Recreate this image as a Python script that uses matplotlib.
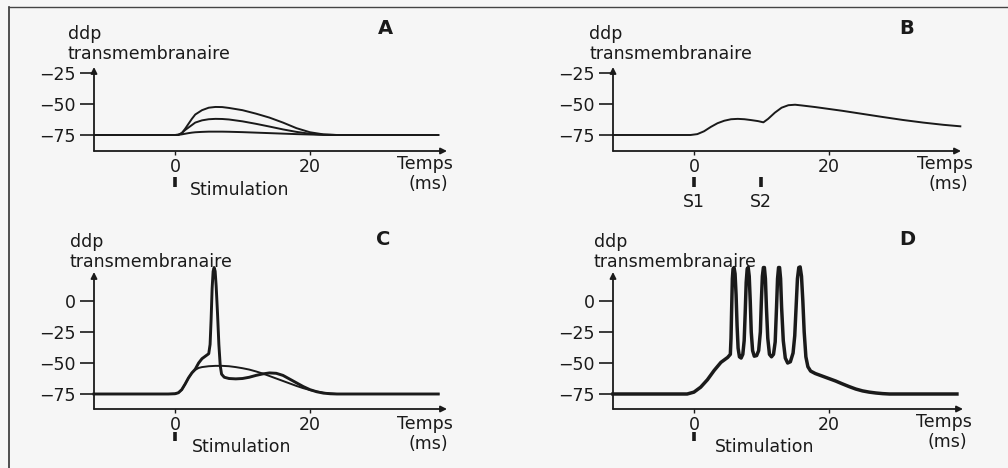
import matplotlib
matplotlib.use("Agg")
import matplotlib.pyplot as plt
import matplotlib.transforms as mtransforms
from matplotlib.lines import Line2D

# ---------------- data ----------------
# Panel A : three subthreshold responses
A_t = [-12, -2, 0, 0.5, 1, 1.5, 2, 2.5, 3, 4, 5, 6, 7, 8, 10, 12, 14, 16, 18, 20, 22, 24, 26, 30, 39]
A_v_large = [-75, -75, -75, -74.8, -73.5, -70, -66, -62, -58.5, -55, -53, -52.4, -52.5, -53.2, -55,
             -57.8, -61, -65, -69.5, -72.8, -74.5, -75, -75, -75, -75]
A_v_mid = [-75, -75, -75, -74.8, -73.5, -71, -69, -67, -65, -63.2, -62.3, -62, -62.1, -62.5, -64,
           -66, -68.2, -70.5, -72.5, -74, -74.8, -75, -75, -75, -75]
A_v_small = [-75, -75, -75, -74.9, -74.5, -74, -73.5, -73.1, -72.8, -72.5, -72.3, -72.3, -72.3, -72.4,
             -72.7, -73.1, -73.5, -73.9, -74.3, -74.6, -74.9, -75, -75, -75, -75]

# Panel B : temporal summation (S1 at 0 ms, S2 at 10 ms)
B_t = [-12, -2, -0.5, 0.5, 1.5, 2.5, 3.5, 4.5, 5.5, 6.5, 7.5, 8.5, 9.5, 10.3, 11, 12, 13, 14, 15,
       16, 18, 20, 22, 25, 28, 31, 34, 37, 39.5]
B_v = [-75, -75, -75, -74.3, -72, -68.5, -65.5, -63.5, -62.3, -62, -62.3, -63, -63.8, -64.8, -62,
       -57, -53, -51, -50.6, -51.2, -52.5, -54, -55.5, -58, -60.5, -62.9, -65, -66.8, -68]
B_stim_t = [0, 10]
B_stim_labels = ["S1", "S2"]

# Panel C : subthreshold response and action potential
C_t_sub = [-12, -1, 0, 0.5, 1, 1.5, 2, 2.5, 3, 3.5, 4, 5, 6, 7, 8, 9, 10, 11, 12, 13, 14, 15, 16,
           17, 18, 19, 20, 21, 22, 23, 24, 26, 30, 39]
C_v_sub = [-75, -75, -74.8, -74, -71.5, -67, -62, -58, -55.5, -54, -53.3, -52.6, -52.3, -52.3, -52.6,
           -53.3, -54.2, -55.3, -56.8, -58.5, -60.5, -62.5, -64.5, -66.5, -68.5, -70.3, -71.8, -73,
           -74, -74.6, -75, -75, -75, -75]
C_t_ap = [-12, -1, 0, 0.5, 1, 1.5, 2, 2.5, 3, 3.5, 4, 4.5, 5.0, 5.2, 5.35, 5.5, 5.65, 5.8, 5.95, 6.1,
          6.3, 6.5, 6.7, 6.9, 7.3, 8, 9, 10, 11, 12, 13, 14, 15, 16, 17, 18, 19, 20, 21, 22, 23, 24,
          30, 39]
C_v_ap = [-75, -75, -74.8, -74, -71.5, -67, -62, -58, -55, -50, -46.5, -44.5, -42.5, -35, -15, 10, 24,
          27, 24, 12, -10, -35, -52, -59, -61.5, -62.5, -62.8, -62.5, -61.5, -60, -58.8, -58, -58.3,
          -60, -63, -66, -69, -71.5, -73.2, -74.3, -74.8, -75, -75, -75]

# Panel D : train of action potentials
D_t = [-12, -1, 0, 1, 2, 3, 4, 5, 5.4,
       5.5, 5.6, 5.7, 5.8, 5.95, 6.1, 6.25, 6.4, 6.55, 6.75, 7.0, 7.25, 7.45,
       7.6, 7.75, 7.9, 8.05, 8.2, 8.35, 8.5, 8.7, 8.95, 9.3, 9.6, 9.85,
       10.0, 10.15, 10.3, 10.45, 10.6, 10.75, 10.95, 11.2, 11.5, 11.8, 12.05,
       12.25, 12.4, 12.55, 12.7, 12.85, 13.0, 13.25, 13.55, 13.9, 14.3, 14.7, 14.95,
       15.15, 15.35, 15.55, 15.75, 15.95, 16.15, 16.35, 16.6, 16.9, 17.3, 18, 19, 20, 21, 22,
       23, 24, 25, 26, 27, 28, 29, 33, 39]
D_v = [-75, -75, -73.5, -69.5, -63.5, -56, -49.5, -45.5, -43,
       -30, -5, 18, 26, 27, 22, 5, -20, -38, -45, -46, -43, -32,
       -10, 15, 26, 27, 20, 0, -25, -40, -44.5, -44, -40, -25,
       0, 20, 27, 27, 18, -5, -30, -43, -45, -43, -33,
       -5, 18, 27, 27, 18, -5, -32, -46, -50, -49, -42, -28,
       -5, 18, 27, 27.5, 20, 0, -25, -45, -53, -56.5, -58.5, -60.5, -62.5, -64.5, -66.8,
       -69, -71, -72.5, -73.5, -74.2, -74.7, -75, -75, -75]

yticks_AB = [-25, -50, -75]
yticks_CD = [0, -25, -50, -75]
xticks = [0, 20]
stim_t = [0]

# ---------------- figure ----------------
W, H = 1008, 468
fig = plt.figure(figsize=(W / 100, H / 100), dpi=100)
fig.patch.set_facecolor("#f6f6f6")
FONT = "DejaVu Sans"
FS = 12.5
INK = "#1a1a1a"


def fx(px):
    return px / W


def fy(py):
    return 1 - py / H


def make_axes(left, right, top, bottom, xlim, ylim, yticks):
    ax = fig.add_axes([fx(left), fy(bottom), (right - left) / W, (bottom - top) / H])
    ax.set_facecolor("none")
    ax.set_xlim(*xlim)
    ax.set_ylim(*ylim)
    for s in ax.spines.values():
        s.set_visible(False)
    ax.set_xticks(xticks)
    ax.set_xticklabels([str(v) for v in xticks], fontsize=FS, family=FONT, color=INK)
    ax.set_yticks(yticks)
    ax.set_yticklabels([("\u2212" + str(-v)) if v < 0 else str(v) for v in yticks],
                       fontsize=FS, family=FONT, color=INK)
    ax.tick_params(axis="y", direction="out", length=10, width=1.2, pad=3, colors=INK)
    ax.tick_params(axis="x", direction="out", length=3, width=1.0, pad=2, colors=INK)
    arrow = dict(arrowstyle="-|>", lw=1.3, color=INK, shrinkA=0, shrinkB=0, mutation_scale=9)
    ax.annotate("", xy=(1, 0), xytext=(0, 0), xycoords="axes fraction", arrowprops=arrow)
    ax.annotate("", xy=(0, 1), xytext=(0, 0), xycoords="axes fraction", arrowprops=arrow)
    return ax


def labels(x_ddp, y_ddp, letter_xy, letter, temps_xy):
    fig.text(fx(x_ddp), fy(y_ddp - 1), "ddp", fontsize=FS, family=FONT, color=INK,
             ha="left", va="center")
    fig.text(fx(x_ddp), fy(y_ddp + 19), "transmembranaire", fontsize=FS, family=FONT,
             color=INK, ha="left", va="center")
    fig.text(fx(letter_xy[0]), fy(letter_xy[1]), letter, fontsize=14, family=FONT,
             weight="bold", color=INK, ha="center", va="center")
    fig.text(fx(temps_xy[0]), fy(temps_xy[1] - 1), "Temps", fontsize=FS, family=FONT,
             color=INK, ha="center", va="center")
    fig.text(fx(temps_xy[0] + 3), fy(temps_xy[1] + 19), "(ms)", fontsize=FS, family=FONT,
             color=INK, ha="center", va="center")


def stim_marks(ax, times, y0, y1):
    tr = mtransforms.blended_transform_factory(ax.transData, fig.transFigure)
    for t in times:
        ax.plot([t, t], [fy(y0), fy(y1)], transform=tr, color=INK, lw=2.6,
                solid_capstyle="butt", clip_on=False)


line_kw = dict(color=INK, lw=1.4, clip_on=False)

# Panel A
axA = make_axes(94, 447, 67, 151, (-12.0, 40.3), (-87.9, -20.2), yticks_AB)
axA.plot(A_t, A_v_large, **line_kw)
axA.plot(A_t, A_v_mid, **line_kw)
axA.plot(A_t, A_v_small, **line_kw)
labels(68, 35, (385, 28), "A", (425, 165))
stim_marks(axA, stim_t, 177, 187)
fig.text(fx(190), fy(190), "Stimulation", fontsize=FS, family=FONT, color=INK,
         ha="left", va="center")

# Panel B
axB = make_axes(613, 961, 67, 151, (-12.0, 39.6), (-87.9, -20.2), yticks_AB)
axB.plot(B_t, B_v, **line_kw)
labels(589, 35, (907, 28), "B", (945, 165))
stim_marks(axB, B_stim_t, 177, 187)
trB = mtransforms.blended_transform_factory(axB.transData, fig.transFigure)
for t, lab in zip(B_stim_t, B_stim_labels):
    axB.text(t, fy(202), lab, transform=trB, fontsize=FS, family=FONT, color=INK,
             ha="center", va="center")

# Panel C
axC = make_axes(94, 447, 272, 409, (-12.0, 40.3), (-87.1, 23.4), yticks_CD)
axC.plot(C_t_sub, C_v_sub, **line_kw)
axC.plot(C_t_ap, C_v_ap, color=INK, lw=2.1, clip_on=False)
labels(70, 243, (383, 240), "C", (425, 425))
stim_marks(axC, stim_t, 432, 441)
fig.text(fx(192), fy(447), "Stimulation", fontsize=FS, family=FONT, color=INK,
         ha="left", va="center")

# Panel D
axD = make_axes(613, 963, 272, 409, (-12.0, 39.9), (-87.1, 23.4), yticks_CD)
axD.plot(D_t, D_v, color=INK, lw=2.5, clip_on=False)
labels(594, 243, (907, 240), "D", (944, 423))
stim_marks(axD, stim_t, 432, 441)
fig.text(fx(715), fy(447), "Stimulation", fontsize=FS, family=FONT, color=INK,
         ha="left", va="center")

# frame lines of the scanned figure
fig.add_artist(Line2D([fx(9), fx(9)], [fy(7), 0], color="#333333", lw=1.2))
fig.add_artist(Line2D([fx(9), 1], [fy(7), fy(7)], color="#444444", lw=1.0))

fig.savefig("out.png", dpi=100, facecolor=fig.get_facecolor())
